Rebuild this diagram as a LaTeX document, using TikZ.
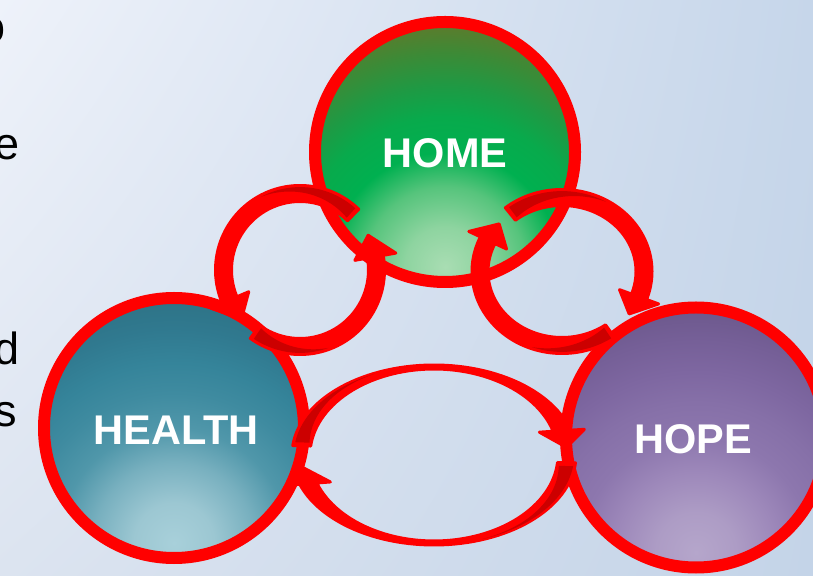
\documentclass[tikz,border=0pt]{standalone}
\usepackage{fontspec}
\setmainfont{Liberation Sans}
\usetikzlibrary{shadings}

% palette
\definecolor{ringred}{HTML}{FF0000}
\definecolor{backred}{HTML}{CC0000}
\definecolor{bgUL}{HTML}{EEF2FA}
\definecolor{bgUR}{HTML}{C6D6EA}
\definecolor{bgLL}{HTML}{DCE4F0}
\definecolor{bgLR}{HTML}{C4D4E8}

% concentric glows; each is laid on a large disc centred near the lower rim
% of its hub and clipped to the hub
\pgfdeclareradialshading{homeshade}{\pgfpoint{0bp}{0bp}}{%
  color(0bp)=(rgb,255:red,169;green,221;blue,179);
  color(4.1bp)=(rgb,255:red,142;green,212;blue,160);
  color(8.2bp)=(rgb,255:red,86;green,196;blue,124);
  color(11.7bp)=(rgb,255:red,0;green,176;blue,80);
  color(15.3bp)=(rgb,255:red,8;green,170;blue,76);
  color(18.4bp)=(rgb,255:red,30;green,154;blue,68);
  color(21.9bp)=(rgb,255:red,61;green,138;blue,54);
  color(25bp)=(rgb,255:red,95;green,122;blue,43);
  color(50bp)=(rgb,255:red,95;green,122;blue,43)}
\pgfdeclareradialshading{healthshade}{\pgfpoint{0bp}{0bp}}{%
  color(0bp)=(rgb,255:red,168;green,208;blue,218);
  color(4.1bp)=(rgb,255:red,156;green,199;blue,210);
  color(8.2bp)=(rgb,255:red,120;green,176;blue,191);
  color(11.7bp)=(rgb,255:red,80;green,151;blue,170);
  color(15.3bp)=(rgb,255:red,63;green,139;blue,160);
  color(18.4bp)=(rgb,255:red,53;green,132;blue,154);
  color(21.9bp)=(rgb,255:red,48;green,121;blue,143);
  color(25bp)=(rgb,255:red,46;green,115;blue,134);
  color(50bp)=(rgb,255:red,46;green,115;blue,134)}
\pgfdeclareradialshading{hopeshade}{\pgfpoint{0bp}{0bp}}{%
  color(0bp)=(rgb,255:red,181;green,166;blue,203);
  color(4.1bp)=(rgb,255:red,173;green,156;blue,197);
  color(8.2bp)=(rgb,255:red,157;green,136;blue,186);
  color(11.7bp)=(rgb,255:red,141;green,119;blue,174);
  color(15.3bp)=(rgb,255:red,134;green,112;blue,168);
  color(18.4bp)=(rgb,255:red,126;green,103;blue,161);
  color(21.9bp)=(rgb,255:red,117;green,95;blue,151);
  color(25bp)=(rgb,255:red,108;green,88;blue,140);
  color(50bp)=(rgb,255:red,108;green,88;blue,140)}

\newcommand{\hubfont}{\fontsize{41.5}{48}\selectfont\bfseries}
\newcommand{\edgefont}{\fontsize{45}{54}\selectfont}

% glow of one hub: centre x, centre y, shading name
\newcommand{\hubGlow}[3]{%
  \begin{scope}
    \clip (#1,#2) circle (130);
    \shade[shading=#3] (#1,#2-115) circle (245);
  \end{scope}}

% geometry of the current loop: centre, radii, band widths
\newcommand{\setLoop}[6]{%
  \def\Lcx{#1}\def\Lcy{#2}\def\Lrx{#3}\def\Lry{#4}\def\Lwx{#5}\def\Lwy{#6}}

% one curved arrow on the current loop:
% #1 tail angle, #2 head base angle, #3 tip angle, #4 end of the dark back face
\newcommand{\loopArrow}[4]{%
  \pgfmathsetmacro{\tailIn}{#1+((#4)>(#1) ? 2.2 : -2.2)}
  \filldraw[arrowbody]
    plot[domain=#1:#2,samples=60]
      ({\Lcx+(\Lrx+0.5*\Lwx)*cos(\x)},{\Lcy+(\Lry+0.5*\Lwy)*sin(\x)})
    -- ({\Lcx+(\Lrx+1.3*\Lwx)*cos(#2)},{\Lcy+(\Lry+1.3*\Lwy)*sin(#2)})
    -- ({\Lcx+\Lrx*cos(#3)},{\Lcy+\Lry*sin(#3)})
    -- ({\Lcx+(\Lrx-1.3*\Lwx)*cos(#2)},{\Lcy+(\Lry-1.3*\Lwy)*sin(#2)})
    -- plot[domain=#2:#1,samples=60]
      ({\Lcx+(\Lrx-0.5*\Lwx)*cos(\x)},{\Lcy+(\Lry-0.5*\Lwy)*sin(\x)})
    -- cycle;
  \fill[arrowback]
    plot[domain=\tailIn:#4,samples=40]
      ({\Lcx+(\Lrx+0.4*\Lwx)*cos(\x)},{\Lcy+(\Lry+0.4*\Lwy)*sin(\x)})
    -- plot[domain=#4:\tailIn,samples=40]
      ({\Lcx+(\Lrx+(-0.4+0.8*(\x-\tailIn)/(#4-\tailIn))*\Lwx)*cos(\x)},
       {\Lcy+(\Lry+(-0.4+0.8*(\x-\tailIn)/(#4-\tailIn))*\Lwy)*sin(\x)})
    -- cycle;
}

\tikzset{
  hub/.style={circle, draw=ringred, line width=12pt, minimum size=260pt,
    inner sep=0pt},
  hublabel/.style={inner sep=0pt, text=white, font=\hubfont},
  arrowbody/.style={fill=ringred, draw=ringred, line width=3pt, line join=round},
  arrowback/.style={fill=backred},
  sidetext/.style={anchor=base east, inner sep=0pt, font=\edgefont, text=black}
}

\begin{document}
\begin{tikzpicture}[x=1pt,y=1pt]
  \useasboundingbox (0,0) rectangle (813,575);
  \shade[upper left=bgUL, upper right=bgUR, lower left=bgLL, lower right=bgLR]
    (0,0) rectangle (813,575);

  % ends of the slide's text column
  \node[sidetext] (t1) at (6,532) {o};
  \node[sidetext] (t2) at (20,415) {e};
  \node[sidetext] (t3) at (20,210) {d};
  \node[sidetext] (t4) at (17,148) {s};

  % the three hubs
  \hubGlow{445}{423}{homeshade}
  \hubGlow{174}{147}{healthshade}
  \hubGlow{696}{137.5}{hopeshade}
  \node[hub] (home)   at (445,423)   {};
  \node[hub] (health) at (174,147)   {};
  \node[hub] (hope)   at (696,137.5) {};
  \node[hublabel] (homeL)   at (445,422) {HOME};
  \node[hublabel] (healthL) at (176,145) {HEALTH};
  \node[hublabel] (hopeL)   at (693,136) {HOPE};

  % HOME <-> HEALTH
  \setLoop{300}{305}{76.5}{76.5}{16}{16}
  \loopArrow{46}{203}{220}{118}
  \loopArrow{234}{370}{387}{290}

  % HOME <-> HOPE
  \setLoop{562}{303.5}{82}{74}{16}{16}
  \loopArrow{129}{-20}{-35}{60}
  \loopArrow{306}{155}{140}{250}

  % HEALTH <-> HOPE
  \setLoop{434}{120}{133}{88}{18}{4}
  \loopArrow{174}{16}{5}{115}
  \loopArrow{355}{199}{188}{290}
\end{tikzpicture}
\end{document}
